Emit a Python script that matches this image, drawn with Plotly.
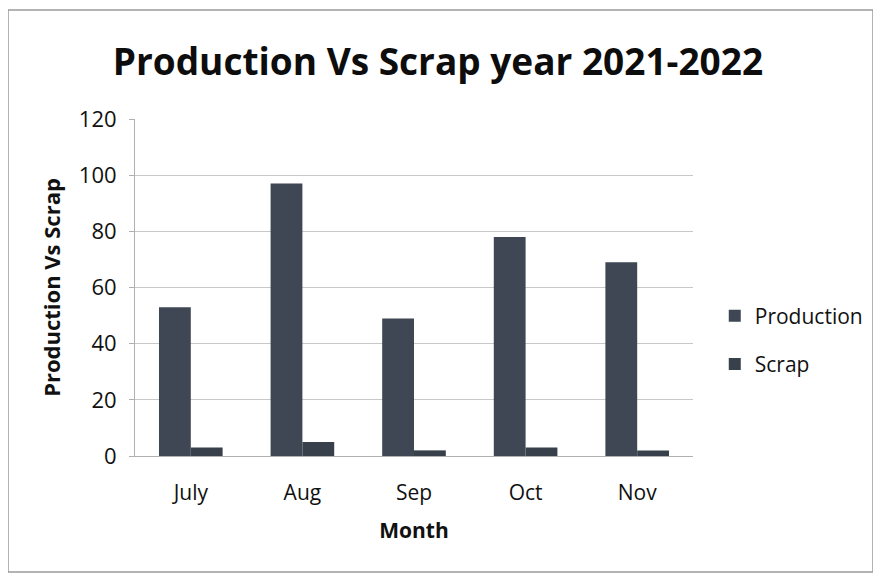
import plotly.graph_objects as go

months = ["July", "Aug", "Sep", "Oct", "Nov"]
production = [53, 97, 49, 78, 69]
scrap = [3, 5, 2, 3, 2]
y_ticks = [0, 20, 40, 60, 80, 100, 120]

fig = go.Figure()
fig.add_trace(go.Bar(name="Production", x=months, y=production, legendgroup="p",
                     marker=dict(color="#3e4753", line=dict(width=0))))
fig.add_trace(go.Bar(name="Scrap", x=months, y=scrap, legendgroup="s",
                     marker=dict(color="#37404b", line=dict(width=0))))

font_family = "Open Sans, Noto Sans, sans-serif"
fig.update_layout(
    width=881, height=577,
    barmode="group", bargap=0.43, bargroupgap=0,
    paper_bgcolor="white", plot_bgcolor="white",
    margin=dict(l=127, r=196, t=111, b=129, autoexpand=False),
    font=dict(family=font_family, color="#111111", size=18),
    title=dict(text="<b>Production Vs Scrap year 2021-2022</b>",
               x=0.488, xanchor="center", y=0.906, yanchor="middle",
               font=dict(size=37, color="#0d0d0d")),
    xaxis=dict(title=dict(text="<b>Month</b>", font=dict(size=21), standoff=18),
               showline=True, linecolor="#b0b0b0", linewidth=1,
               ticks="", tickfont=dict(size=21), ticklabelstandoff=18),
    yaxis=dict(title=dict(text="<b>Production Vs Scrap</b>", font=dict(size=22), standoff=12),
               range=[0, 120], tickvals=y_ticks,
               showgrid=True, gridcolor="#c8c8c8", gridwidth=1,
               showline=True, linecolor="#b0b0b0", linewidth=1,
               ticks="outside", ticklen=5, tickcolor="#b0b0b0",
               tickfont=dict(size=22), ticklabelstandoff=8, zeroline=False),
    legend=dict(x=1.039, y=0.344, xanchor="left", yanchor="middle",
                font=dict(size=21), tracegroupgap=18, itemsizing="constant",
                bgcolor="rgba(0,0,0,0)"),
    shapes=[dict(type="rect", xref="paper", yref="paper",
                 x0=-0.2276, x1=1.3226, y0=-0.344, y1=1.3234,
                 line=dict(color="#9a9a9a", width=1.5))],
)

fig.write_html("out.html")
